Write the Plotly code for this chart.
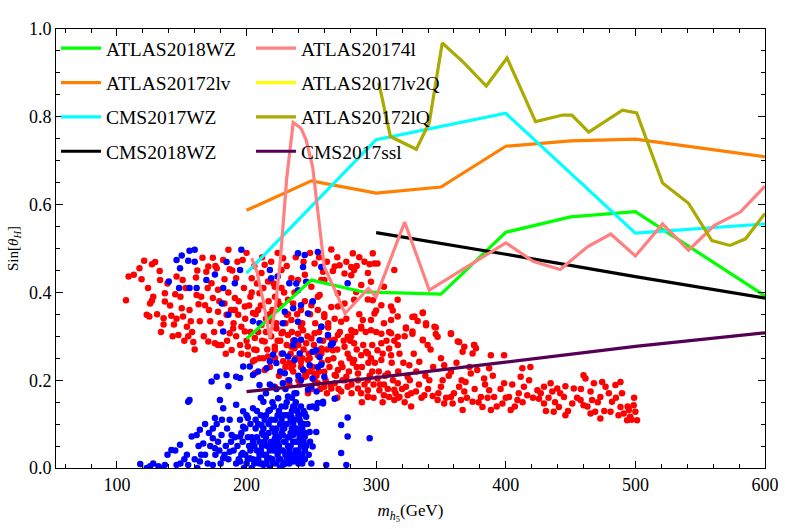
import plotly.graph_objects as go

# ---- exclusion lines ----
atlas2018wz_x = [200, 250, 290, 350, 400, 450, 500, 600]
atlas2018wz_y = [0.294, 0.428, 0.401, 0.396, 0.537, 0.572, 0.584, 0.392]

atlas20172lv_x = [200, 250, 300, 350, 400, 450, 500, 600]
atlas20172lv_y = [0.587, 0.654, 0.626, 0.640, 0.733, 0.745, 0.749, 0.709]

cms2017wz_x = [200, 300, 400, 500, 600]
cms2017wz_y = [0.444, 0.748, 0.808, 0.535, 0.556]

cms2018wz_x = [300, 400, 500, 600]
cms2018wz_y = [0.536, 0.487, 0.436, 0.387]

atlas20174l_x = [204, 208, 213, 218, 222, 226, 231, 236, 242, 246, 251, 254, 257, 260, 267, 276,
                 294, 300, 322, 341, 400, 421, 442, 463, 481, 500, 521, 541, 561, 581, 600]
atlas20174l_y = [0.478, 0.447, 0.379, 0.296, 0.36, 0.47, 0.66, 0.787, 0.774, 0.747, 0.686, 0.61,
                 0.519, 0.458, 0.413, 0.352, 0.409, 0.39, 0.56, 0.405, 0.513, 0.471, 0.452, 0.504,
                 0.533, 0.483, 0.556, 0.496, 0.553, 0.583, 0.642]

atlas2017lv2q_x = []
atlas2017lv2q_y = []

atlas20172lq_x = [302, 311, 331, 341, 351, 367, 385, 401, 423, 444, 451, 464, 490, 501, 521, 541,
                  559, 573, 585, 600]
atlas20172lq_y = [0.878, 0.755, 0.726, 0.787, 0.968, 0.925, 0.87, 0.934, 0.789, 0.804, 0.804, 0.765,
                  0.815, 0.809, 0.649, 0.603, 0.518, 0.507, 0.522, 0.58]

cms2017ssl_x = [200, 300, 400, 500, 600]
cms2017ssl_y = [0.174, 0.206, 0.241, 0.277, 0.308]

# ---- scan points ----
red_points = [
    (109, 0.436), (107, 0.382), (117.4, 0.455), (121, 0.472), (127, 0.464), (129.5, 0.469),
    (133, 0.449), (133.3, 0.428), (123, 0.349), (125, 0.345), (125.6, 0.375), (127, 0.381),
    (137, 0.398), (137, 0.379), (136, 0.341), (136, 0.327), (142, 0.347), (145, 0.396),
    (144, 0.327), (146, 0.436), (147.4, 0.303), (150.7, 0.428), (150, 0.364), (151, 0.345),
    (154, 0.322), (155, 0.30), (157, 0.334), (159, 0.287), (161, 0.434), (161.5, 0.394),
    (163, 0.373), (164, 0.334), (166, 0.479), (168, 0.371), (169, 0.447), (170.5, 0.288),
    (172, 0.334), (173, 0.421), (174, 0.479), (174, 0.387), (175.6, 0.284), (177, 0.455),
    (178, 0.356), (180.7, 0.28), (182, 0.474), (183, 0.375), (184.6, 0.349), (186, 0.497),
    (187, 0.453), (187, 0.307), (188.5, 0.269), (189.7, 0.318), (191, 0.387), (192, 0.432),
    (193.6, 0.349), (195, 0.28), (197, 0.474), (198.7, 0.368), (198.7, 0.311), (201, 0.258),
    (204, 0.432), (205, 0.353), (206.4, 0.296), (205, 0.243), (207.7, 0.269), (210, 0.398),
    (211.5, 0.326), (213, 0.25), (214, 0.288), (214, 0.463), (216.6, 0.425), (219, 0.334),
    (221.8, 0.269), (223, 0.318), (224.4, 0.379), (227, 0.41), (228.2, 0.478), (228.2, 0.243),
    (231, 0.349), (232, 0.303), (234.6, 0.432), (234.6, 0.227), (236, 0.375), (237, 0.273),
    (170.5, 0.459), (178, 0.406), (191, 0.36), (196, 0.322), (201, 0.277), (206.4, 0.246),
    (214, 0.223), (221.8, 0.185), (232, 0.20), (245, 0.208), (252.5, 0.20), (260, 0.185),
    (268, 0.193), (278, 0.185), (288.4, 0.17), (293.6, 0.163), (306, 0.166), (314, 0.155),
    (314, 0.178), (270.5, 0.223), (283, 0.246), (293.6, 0.261), (304, 0.284), (311.5, 0.307),
    (316.6, 0.345), (311.5, 0.368), (298.7, 0.352), (288.4, 0.322), (280.7, 0.30), (268, 0.292),
    (263, 0.33), (270.5, 0.368), (283, 0.383), (293.6, 0.444), (283, 0.451), (268, 0.459),
    (257.7, 0.428), (255, 0.39), (242, 0.36), (234.6, 0.337), (227, 0.307), (221.8, 0.277),
    (216.6, 0.254), (206.4, 0.216), (237, 0.284), (247.4, 0.246), (257.7, 0.261), (252.5, 0.307),
    (242, 0.322), (232, 0.383), (221.8, 0.413), (211.5, 0.444), (227, 0.451), (239.7, 0.428),
    (301, 0.466), (314, 0.451), (306, 0.413), (316.6, 0.383),
    (265.4, 0.498), (282, 0.489), (287, 0.48), (297.4, 0.489), (298.7, 0.466), (295, 0.464),
    (271.8, 0.462), (280.8, 0.458), (275.6, 0.443), (266.6, 0.449), (259, 0.447), (252.5, 0.466),
    (280.8, 0.439), (288.5, 0.417), (296, 0.424), (260, 0.428), (250, 0.413), (256.4, 0.394),
    (270.5, 0.398), (284.6, 0.401), (293.6, 0.384), (297.4, 0.382), (304, 0.371), (312.8, 0.359),
    (275.6, 0.375), (265.4, 0.367), (255, 0.36), (250, 0.371), (260, 0.344), (273, 0.333),
    (289.7, 0.337), (296, 0.337), (311.5, 0.337), (300, 0.359), (328, 0.344), (336, 0.353),
    (332, 0.335), (323, 0.32), (338.5, 0.325), (346, 0.32), (357.7, 0.305), (364, 0.287),
    (336, 0.291), (339.7, 0.28), (347.4, 0.299), (328, 0.306), (316.7, 0.299), (310, 0.31),
    (304, 0.306), (296, 0.314), (288.5, 0.318), (280.8, 0.314), (278, 0.299), (270.5, 0.303),
    (263, 0.299), (250, 0.295), (243.6, 0.314), (239.7, 0.306), (234.6, 0.276), (246, 0.284),
    (257.7, 0.272), (266.6, 0.268), (275.6, 0.276), (283, 0.284), (292.3, 0.265), (301, 0.268),
    (310, 0.272), (316.7, 0.28), (311.5, 0.257), (304, 0.246), (296, 0.25), (288.5, 0.257),
    (279.5, 0.25), (273, 0.238), (263, 0.246), (255, 0.257), (248.7, 0.25), (242, 0.242),
    (235.9, 0.234), (244.9, 0.219), (252.5, 0.215), (260, 0.219), (268, 0.212), (277, 0.208),
    (286, 0.215), (293.6, 0.20), (301, 0.204), (309, 0.215), (316.7, 0.193), (323, 0.185),
    (330.7, 0.174), (337.2, 0.166), (325.6, 0.234), (333.3, 0.242), (324.3, 0.208),
    (293.6, 0.177), (302.5, 0.177), (310, 0.162), (318, 0.162), (286, 0.181), (273, 0.174),
    (265.4, 0.181), (255, 0.193), (247.4, 0.17), (293.6, 0.162), (324.3, 0.166),
    (336, 0.354), (329.5, 0.345), (338.5, 0.33), (345, 0.322), (346, 0.305), (357.7, 0.307),
    (363, 0.288), (375.6, 0.28), (377, 0.273), (336, 0.292), (328, 0.311), (323, 0.318),
    (322, 0.30),
    (343.6, 0.164), (347.4, 0.155), (350, 0.185), (352.5, 0.147), (357.7, 0.162), (359, 0.147),
    (365.4, 0.155), (364, 0.185), (368, 0.174), (369, 0.196), (366.7, 0.132), (374.4, 0.151),
    (373, 0.215), (380.8, 0.162), (382, 0.139), (383.3, 0.204), (387.2, 0.177), (388.5, 0.132),
    (391, 0.162), (397.4, 0.147), (398.7, 0.193), (402.5, 0.162), (403.8, 0.132), (409, 0.155),
    (411.5, 0.208), (414, 0.185), (416.6, 0.166), (412.8, 0.227), (398.7, 0.257), (388.5, 0.257),
    (387.2, 0.227), (378, 0.223), (374.4, 0.261), (366.7, 0.265), (368, 0.276), (375.6, 0.28),
    (352.5, 0.234), (357.7, 0.219), (351.3, 0.20), (341, 0.20), (419, 0.23),
    (424.4, 0.177), (425.6, 0.158), (429.5, 0.147), (429.5, 0.185), (434.6, 0.193), (435.9, 0.174),
    (439.7, 0.181), (437, 0.128), (441, 0.139), (444.9, 0.162), (446, 0.186), (446, 0.12),
    (452.5, 0.181), (451.3, 0.147), (457.7, 0.155), (460, 0.211), (461.5, 0.204), (460, 0.143),
    (465.4, 0.174), (468, 0.193), (466.6, 0.155), (469, 0.128), (473, 0.162), (474.4, 0.196),
    (477, 0.185), (473, 0.113), (479.5, 0.17), (482, 0.151), (484.6, 0.189), (488.5, 0.196),
    (489.7, 0.17), (488.5, 0.139), (491, 0.124), (495, 0.132), (496, 0.117), (498.7, 0.143),
    (500, 0.128), (501.3, 0.109), (493.6, 0.109), (480.8, 0.128), (465.4, 0.124),
    # dense core
    (186, 0.40), (188, 0.36), (190, 0.33), (192, 0.30), (194, 0.38), (196, 0.26), (198, 0.41),
    (199, 0.34), (200, 0.29), (202, 0.37), (203, 0.31), (204, 0.40), (206, 0.27), (207, 0.35),
    (208, 0.42), (209, 0.31), (210, 0.25), (211, 0.37), (212, 0.29), (213, 0.41), (215, 0.34),
    (216, 0.27), (217, 0.38), (218, 0.23), (219, 0.30), (220, 0.36), (221, 0.42), (222, 0.25),
    (223, 0.33), (224, 0.29), (225, 0.21), (226, 0.37), (227, 0.26), (228, 0.31), (229, 0.40),
    (230, 0.23), (231, 0.28), (232, 0.35), (233, 0.19), (234, 0.26), (235, 0.31), (236, 0.22),
    (237, 0.40), (238, 0.25), (239, 0.35), (240, 0.28), (241, 0.19), (242, 0.23), (243, 0.33),
    (244, 0.27), (245, 0.38), (246, 0.21), (247, 0.30), (248, 0.26), (249, 0.35), (250, 0.18),
    (251, 0.23), (252, 0.28), (253, 0.33), (254, 0.21), (255, 0.26), (256, 0.31), (257, 0.18),
    (258, 0.24), (259, 0.29), (260, 0.35), (261, 0.20), (262, 0.27), (263, 0.32), (264, 0.23),
    (265, 0.19), (266, 0.29), (267, 0.25), (268, 0.34), (269, 0.21), (270, 0.27), (271, 0.18),
    (272, 0.31), (274, 0.23), (275, 0.29), (276, 0.20), (277, 0.34), (278, 0.26), (279, 0.22),
    (280, 0.29), (281, 0.19), (282, 0.24), (284, 0.31), (285, 0.27), (286, 0.20), (287, 0.35),
    (289, 0.23), (290, 0.28), (291, 0.19), (292, 0.31), (294, 0.24), (295, 0.21), (297, 0.28),
    (298, 0.19), (299, 0.24), (300, 0.31), (302, 0.22), (303, 0.19), (305, 0.26), (306, 0.33),
    (307, 0.21), (308, 0.29), (309, 0.18), (312, 0.24), (313, 0.20), (314, 0.29), (315, 0.17),
    (317, 0.22), (318, 0.26), (320, 0.18), (321, 0.24), (322, 0.15), (326, 0.20), (327, 0.17),
    (329, 0.26), (331, 0.22), (333, 0.19), (335, 0.16), (338, 0.21), (340, 0.18), (342, 0.27),
    (344, 0.23), (348, 0.17), (350, 0.25), (354, 0.16), (356, 0.21), (360, 0.17), (362, 0.24),
    (366, 0.20), (370, 0.16), (372, 0.23), (376, 0.18), (379, 0.15), (384, 0.19), (386, 0.16),
    (390, 0.21), (393, 0.14), (396, 0.18), (400, 0.16), (405, 0.19), (407, 0.14), (410, 0.17),
    (413, 0.15), (418, 0.20), (421, 0.16), (427, 0.17), (431, 0.13), (433, 0.16), (438, 0.15),
    (442, 0.17), (448, 0.13), (455, 0.16), (458, 0.18), (463, 0.14), (471, 0.15), (476, 0.13),
    (485, 0.16), (487, 0.12), (494, 0.14), (497, 0.11), (499, 0.16),
    (113, 0.44), (119, 0.43), (124, 0.41), (128, 0.39), (131, 0.35), (134, 0.31), (139, 0.42),
    (141, 0.37), (143, 0.30), (146, 0.34), (149, 0.39), (152, 0.29), (153, 0.41), (156, 0.36),
    (158, 0.31), (160, 0.27), (162, 0.45), (165, 0.39), (167, 0.30), (170, 0.41), (171, 0.36),
    (175, 0.31), (176, 0.46), (179, 0.38), (180, 0.33), (183, 0.43), (185, 0.29), (189, 0.45),
    (184, 0.26), (178, 0.28),
    # upper fringe and lower edge
    (193, 0.47), (200, 0.49), (206, 0.46), (212, 0.48), (219, 0.47), (224, 0.49), (231, 0.46),
    (238, 0.48), (244, 0.47), (249, 0.49), (256, 0.48), (262, 0.47), (270, 0.48), (277, 0.47),
    (285, 0.46), (291, 0.47), (245, 0.44), (203, 0.39), (209, 0.36), (215, 0.31), (222, 0.39),
    (230, 0.33), (236, 0.29), (243, 0.25), (249, 0.22), (262, 0.17), (270, 0.16), (281, 0.17),
    (289, 0.15), (298, 0.16), (305, 0.15), (240, 0.20), (256, 0.22), (274, 0.20), (285, 0.23),
    (297, 0.22), (306, 0.19), (317, 0.16), (327, 0.14), (233, 0.24), (226, 0.29), (218, 0.35),
]

blue_points = [
    (160, 0.497), (156, 0.495), (146, 0.474), (150, 0.484), (155, 0.472), (160, 0.47),
    (148.7, 0.455), (140, 0.425), (148, 0.41), (156, 0.41), (161.5, 0.41), (169, 0.428),
    (175.6, 0.441), (182, 0.41), (181, 0.375), (184.6, 0.469), (196, 0.497), (195, 0.451),
    (191, 0.421), (186, 0.349), (182, 0.311), (205, 0.334), (210, 0.33), (218, 0.451),
    (219, 0.432), (224, 0.436), (228, 0.33), (233, 0.421), (229.5, 0.356), (236, 0.364),
    (236, 0.28), (228, 0.261), (220.5, 0.258), (218, 0.243), (223, 0.239), (215.4, 0.227),
    (209, 0.22), (202.5, 0.231), (197.4, 0.231), (195, 0.205), (192, 0.208), (184.6, 0.212),
    (177, 0.208), (173, 0.197), (186, 0.186), (205, 0.212), (210, 0.189), (220.5, 0.185),
    (228, 0.193), (224.4, 0.159), (232, 0.163), (213, 0.151), (205, 0.136), (201, 0.114),
    (197.4, 0.129), (192, 0.144), (182, 0.136), (179.5, 0.155), (175.6, 0.114), (187, 0.11),
    (197.4, 0.094), (211.5, 0.098), (218, 0.132), (227, 0.102), (234.6, 0.117), (236, 0.075),
    (228, 0.075), (222, 0.068), (213, 0.075), (205, 0.06), (195, 0.072), (188.5, 0.075),
    (180.7, 0.075), (174, 0.09), (164, 0.087), (161.5, 0.075), (157.7, 0.072), (155, 0.151),
    (156, 0.155), (166.6, 0.056), (174, 0.068), (175.6, 0.045), (168, 0.03), (154, 0.03),
    (148.7, 0.053), (142, 0.041), (155, 0.007), (137, 0.007), (132, 0.004), (125.6, 0.004),
    (118, 0.009), (146, 0.007), (164, 0.015), (187, 0.037), (195, 0.015), (202.5, 0.022),
    (210, 0.037), (218, 0.022), (223, 0.045), (231, 0.03), (236, 0.015), (213, 0.007),
    (228, 0.007), (197, 0.034), (182, 0.022), (174, 0.007),
    (242, 0.018), (251, 0.049), (261.5, 0.007), (273, 0.098), (273, 0.034), (278, 0.072),
    (277, 0.007), (295, 0.068), (259, 0.151), (255, 0.148), (251, 0.14), (246, 0.117),
    (242, 0.102), (241, 0.079), (237, 0.14), (237, 0.17), (247.4, 0.178), (254, 0.174),
    (251, 0.204), (251, 0.265), (257.7, 0.235), (265, 0.28), (266.6, 0.284), (278, 0.421),
    (257.7, 0.322), (251, 0.379), (243.6, 0.224), (237, 0.246), (242, 0.292), (232, 0.254),
    (229.5, 0.216),
    (239.7, 0.489), (244.9, 0.485), (255, 0.492), (243.6, 0.458), (257.7, 0.458), (238.4, 0.42),
    (246, 0.424), (239.7, 0.405), (251, 0.379), (242, 0.371), (247.4, 0.352), (239.7, 0.333),
    (257.7, 0.322), (262.8, 0.303), (256.4, 0.291), (237.2, 0.291), (265.4, 0.28), (253.8, 0.268),
    (241, 0.261), (256.4, 0.253), (248.7, 0.234), (255, 0.23), (260, 0.208), (242, 0.20),
    (250, 0.185), (238.4, 0.17), (268, 0.158), (259, 0.147), (248.7, 0.139), (253.8, 0.136),
    (244.9, 0.124), (278, 0.115), (241, 0.109), (248.7, 0.082), (253.8, 0.082), (244.9, 0.071),
    (200, 0.01), (205, 0.02), (210, 0.01), (215, 0.03), (220, 0.01), (225, 0.02), (230, 0.01),
    (235, 0.02), (240, 0.01), (243, 0.03), (238, 0.04), (232, 0.05), (226, 0.04), (220, 0.05),
    (214, 0.06), (208, 0.04), (202, 0.05), (196, 0.03), (192, 0.01), (186, 0.02), (180, 0.01),
    (176, 0.03), (170, 0.01), (165, 0.03), (233, 0.07), (228, 0.09), (240, 0.06), (236, 0.10),
    (222, 0.08), (217, 0.10), (212, 0.08), (207, 0.09), (230, 0.12), (225, 0.13), (239, 0.13),
    (220, 0.15), (235, 0.16), (245, 0.04), (242, 0.08), (238, 0.02), (232, 0.03), (226, 0.0),
    (218, 0.0), (210, 0.03), (204, 0.0), (198, 0.0), (190, 0.04), (184, 0.05), (178, 0.06),
    (172, 0.05), (229, 0.06), (224, 0.06), (216, 0.02), (212, 0.05), (234, 0.08), (230, 0.03),
    (244, 0.10), (241, 0.12), (236, 0.14), (231, 0.15), (227, 0.11), (215, 0.12), (208, 0.13),
    (200, 0.12), (195, 0.11),
    # dense core
    (191, 0.07), (193, 0.05), (194, 0.02), (196, 0.08), (197, 0.06), (199, 0.03), (199, 0.09),
    (201, 0.07), (201, 0.02), (203, 0.10), (203, 0.04), (204, 0.07), (206, 0.01), (206, 0.05),
    (207, 0.11), (208, 0.07), (209, 0.02), (209, 0.10), (210, 0.06), (211, 0.12), (211, 0.04),
    (212, 0.01), (213, 0.09), (213, 0.03), (214, 0.11), (215, 0.07), (215, 0.01), (216, 0.05),
    (217, 0.13), (217, 0.08), (218, 0.04), (219, 0.06), (219, 0.11), (220, 0.02), (220, 0.09),
    (221, 0.14), (221, 0.04), (222, 0.06), (222, 0.11), (223, 0.01), (223, 0.09), (224, 0.03),
    (224, 0.12), (225, 0.07), (225, 0.05), (226, 0.10), (226, 0.02), (227, 0.08), (227, 0.14),
    (228, 0.04), (228, 0.12), (229, 0.01), (229, 0.09), (230, 0.06), (230, 0.14), (231, 0.02),
    (231, 0.10), (232, 0.07), (232, 0.12), (233, 0.04), (233, 0.01), (234, 0.11), (234, 0.05),
    (235, 0.09), (235, 0.13), (236, 0.03), (236, 0.06), (237, 0.08), (237, 0.11), (238, 0.06),
    (238, 0.15), (239, 0.03), (239, 0.09), (240, 0.04), (240, 0.12), (241, 0.07), (241, 0.02),
    (242, 0.05), (242, 0.14), (243, 0.09), (243, 0.01), (244, 0.06), (244, 0.13), (245, 0.02),
    (246, 0.08), (246, 0.05), (247, 0.10), (248, 0.03), (249, 0.06), (250, 0.01), (188, 0.06),
    (185, 0.09), (183, 0.03), (181, 0.11), (179, 0.04), (177, 0.10), (171, 0.08), (168, 0.10),
    (163, 0.05), (160, 0.02), (152, 0.02), (145, 0.04), (139, 0.03), (128, 0.01), (123, 0.0),
    (135, 0.0), (149, 0.01), (162, 0.0), (215, 0.17), (223, 0.18), (230, 0.18), (211, 0.16),
    (218, 0.19), (226, 0.22), (233, 0.20), (240, 0.21),
]

red_x = [p[0] for p in red_points]
red_y = [p[1] for p in red_points]
blue_x = [p[0] for p in blue_points]
blue_y = [p[1] for p in blue_points]

SERIF = "Liberation Serif, Times New Roman, serif"

fig = go.Figure()
fig.add_trace(go.Scatter(x=red_x, y=red_y, mode="markers", showlegend=False,
                         marker=dict(color="#FF0000", size=6.5, line=dict(width=0))))
fig.add_trace(go.Scatter(x=blue_x, y=blue_y, mode="markers", showlegend=False,
                         marker=dict(color="#0000FF", size=6.5, line=dict(width=0))))

lines = [
    ("ATLAS2018WZ", atlas2018wz_x, atlas2018wz_y, "#00FF00", "legend"),
    ("ATLAS20172lv", atlas20172lv_x, atlas20172lv_y, "#FF7F00", "legend"),
    ("CMS2017WZ", cms2017wz_x, cms2017wz_y, "#00FFFF", "legend"),
    ("CMS2018WZ", cms2018wz_x, cms2018wz_y, "#000000", "legend"),
    ("ATLAS20174l", atlas20174l_x, atlas20174l_y, "#FF8080", "legend2"),
    ("ATLAS2017lv2Q", atlas2017lv2q_x, atlas2017lv2q_y, "#FFFF00", "legend2"),
    ("ATLAS20172lQ", atlas20172lq_x, atlas20172lq_y, "#AAAA00", "legend2"),
    ("CMS2017ssl", cms2017ssl_x, cms2017ssl_y, "#550055", "legend2"),
]
for name, xs, ys, col, lg in lines:
    fig.add_trace(go.Scatter(x=xs if xs else [None], y=ys if ys else [None], mode="lines",
                             name=name, legend=lg, legendgroup=name,
                             line=dict(color=col, width=3.2)))

legend_common = dict(font=dict(family=SERIF, size=19.5, color="black"),
                     bgcolor="rgba(0,0,0,0)", borderwidth=0, tracegroupgap=6,
                     xanchor="left", yanchor="top", itemwidth=40)

fig.update_layout(
    width=795, height=529,
    margin=dict(l=54, r=30, t=29, b=61),
    paper_bgcolor="white", plot_bgcolor="white",
    legend=dict(x=0.0, y=1.0, **legend_common),
    legend2=dict(x=0.275, y=1.0, **legend_common),
    xaxis=dict(range=[53, 600], showgrid=False, zeroline=False,
               showline=True, linecolor="black", linewidth=1, mirror="ticks",
               ticks="inside", ticklen=7, tickcolor="black", tickwidth=1,
               tick0=0, dtick=100,
               minor=dict(ticks="inside", ticklen=4, dtick=20, tick0=0, tickcolor="black", showgrid=False),
               tickfont=dict(family=SERIF, size=18, color="black"),
               title=dict(text="<i>m</i><sub><i>h</i><sub>5</sub></sub>(GeV)",
                          font=dict(family=SERIF, size=17, color="black"), standoff=10)),
    yaxis=dict(range=[0, 1.0], showgrid=False, zeroline=False,
               showline=True, linecolor="black", linewidth=1, mirror="ticks",
               ticks="inside", ticklen=7, tickcolor="black", tickwidth=1,
               tick0=0, dtick=0.2, tickformat=".1f",
               minor=dict(ticks="inside", ticklen=4, dtick=0.05, tick0=0, tickcolor="black", showgrid=False),
               tickfont=dict(family=SERIF, size=18, color="black"),
               title=dict(text="Sin[<i>θ</i><sub><i>H</i></sub>]",
                          font=dict(family=SERIF, size=15, color="black"), standoff=6)),
)

fig.write_html("out.html")
